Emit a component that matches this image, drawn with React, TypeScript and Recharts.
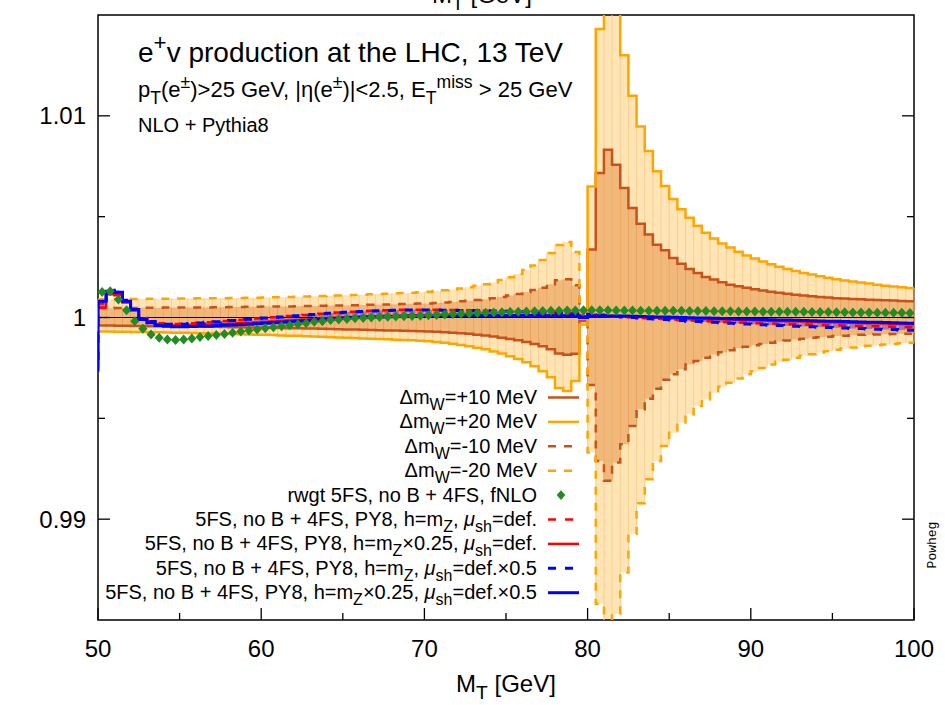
import React from 'react';
import { ComposedChart, XAxis, YAxis, Line, Area, ErrorBar, ReferenceLine, ReferenceArea } from 'recharts';

// ---------------- data ----------------
const binStart = [
  50, 50.5, 51, 51.5, 52, 52.5, 53, 53.5, 54, 54.5, 55, 55.5, 56, 56.5, 57, 57.5, 58, 58.5, 59, 59.5,
  60, 60.5, 61, 61.5, 62, 62.5, 63, 63.5, 64, 64.5, 65, 65.5, 66, 66.5, 67, 67.5, 68, 68.5, 69, 69.5,
  70, 70.5, 71, 71.5, 72, 72.5, 73, 73.5, 74, 74.5, 75, 75.5, 76, 76.5, 77, 77.5, 78, 78.5, 79, 79.5,
  80, 80.5, 81, 81.5, 82, 82.5, 83, 83.5, 84, 84.5, 85, 85.5, 86, 86.5, 87, 87.5, 88, 88.5, 89, 89.5,
  90, 90.5, 91, 91.5, 92, 92.5, 93, 93.5, 94, 94.5, 95, 95.5, 96, 96.5, 97, 97.5, 98, 98.5, 99, 99.5,
];

const dmWp10 = [
  0.99960, 0.99960, 0.99959, 0.99959, 0.99958, 0.99958, 0.99957, 0.99957, 0.99957, 0.99956,
  0.99956, 0.99955, 0.99955, 0.99954, 0.99954, 0.99953, 0.99952, 0.99952, 0.99951, 0.99950,
  0.99950, 0.99949, 0.99948, 0.99947, 0.99947, 0.99946, 0.99945, 0.99944, 0.99943, 0.99942,
  0.99941, 0.99940, 0.99939, 0.99938, 0.99937, 0.99936, 0.99935, 0.99934, 0.99933, 0.99932,
  0.99931, 0.99929, 0.99927, 0.99925, 0.99922, 0.99919, 0.99915, 0.99911, 0.99906, 0.99900,
  0.99894, 0.99887, 0.99879, 0.99869, 0.99857, 0.99842, 0.99822, 0.99815, 0.99820, 0.99983,
  1.00337, 1.00716, 1.00832, 1.00757, 1.00642, 1.00543, 1.00465, 1.00411, 1.00361, 1.00333,
  1.00295, 1.00266, 1.00241, 1.00221, 1.00201, 1.00188, 1.00175, 1.00163, 1.00155, 1.00147,
  1.00140, 1.00134, 1.00128, 1.00123, 1.00118, 1.00113, 1.00109, 1.00105, 1.00102, 1.00099,
  1.00096, 1.00094, 1.00092, 1.00090, 1.00088, 1.00087, 1.00085, 1.00084, 1.00082, 1.00081,
];

const dmWp20 = [
  0.99930, 0.99930, 0.99929, 0.99929, 0.99928, 0.99928, 0.99927, 0.99927, 0.99926, 0.99925,
  0.99924, 0.99923, 0.99922, 0.99921, 0.99920, 0.99919, 0.99918, 0.99917, 0.99916, 0.99915,
  0.99914, 0.99913, 0.99911, 0.99910, 0.99909, 0.99907, 0.99906, 0.99904, 0.99902, 0.99901,
  0.99899, 0.99898, 0.99896, 0.99895, 0.99893, 0.99892, 0.99890, 0.99889, 0.99887, 0.99885,
  0.99882, 0.99879, 0.99875, 0.99870, 0.99864, 0.99857, 0.99850, 0.99842, 0.99832, 0.99821,
  0.99808, 0.99794, 0.99778, 0.99758, 0.99734, 0.99704, 0.99650, 0.99635, 0.99685, 0.99965,
  1.00650, 1.01430, 1.01660, 1.01520, 1.01300, 1.01100, 1.00947, 1.00826, 1.00725, 1.00652,
  1.00587, 1.00537, 1.00495, 1.00455, 1.00420, 1.00392, 1.00367, 1.00347, 1.00326, 1.00308,
  1.00293, 1.00278, 1.00264, 1.00252, 1.00241, 1.00230, 1.00221, 1.00213, 1.00205, 1.00197,
  1.00190, 1.00184, 1.00178, 1.00173, 1.00168, 1.00163, 1.00158, 1.00154, 1.00150, 1.00146,
];

const dmWm10 = [
  1.00046, 1.00046, 1.00047, 1.00047, 1.00047, 1.00048, 1.00048, 1.00048, 1.00049, 1.00049,
  1.00049, 1.00050, 1.00050, 1.00050, 1.00051, 1.00051, 1.00052, 1.00052, 1.00053, 1.00053,
  1.00054, 1.00054, 1.00055, 1.00055, 1.00056, 1.00057, 1.00057, 1.00058, 1.00059, 1.00060,
  1.00060, 1.00061, 1.00062, 1.00063, 1.00064, 1.00065, 1.00066, 1.00067, 1.00068, 1.00069,
  1.00070, 1.00072, 1.00074, 1.00077, 1.00080, 1.00083, 1.00087, 1.00091, 1.00096, 1.00102,
  1.00109, 1.00117, 1.00126, 1.00136, 1.00148, 1.00165, 1.00185, 1.00190, 1.00160, 1.00012,
  0.99665, 0.99289, 0.99190, 0.99281, 0.99371, 0.99462, 0.99545, 0.99597, 0.99647, 0.99691,
  0.99718, 0.99743, 0.99767, 0.99784, 0.99800, 0.99817, 0.99828, 0.99838, 0.99847, 0.99855,
  0.99862, 0.99869, 0.99875, 0.99881, 0.99886, 0.99891, 0.99895, 0.99899, 0.99902, 0.99905,
  0.99908, 0.99910, 0.99912, 0.99914, 0.99915, 0.99916, 0.99917, 0.99918, 0.99919, 0.99920,
];

const dmWm20 = [
  1.00090, 1.00091, 1.00091, 1.00092, 1.00092, 1.00092, 1.00093, 1.00093, 1.00093, 1.00094,
  1.00094, 1.00094, 1.00095, 1.00095, 1.00096, 1.00096, 1.00097, 1.00097, 1.00098, 1.00098,
  1.00099, 1.00100, 1.00101, 1.00102, 1.00103, 1.00104, 1.00105, 1.00106, 1.00108, 1.00109,
  1.00110, 1.00112, 1.00113, 1.00115, 1.00116, 1.00118, 1.00120, 1.00121, 1.00123, 1.00125,
  1.00128, 1.00131, 1.00135, 1.00139, 1.00144, 1.00150, 1.00157, 1.00165, 1.00175, 1.00186,
  1.00200, 1.00216, 1.00235, 1.00258, 1.00285, 1.00320, 1.00360, 1.00375, 1.00325, 1.00025,
  0.99330, 0.98580, 0.98350, 0.98530, 0.98736, 0.98926, 0.99079, 0.99198, 0.99289, 0.99363,
  0.99429, 0.99479, 0.99520, 0.99561, 0.99594, 0.99627, 0.99657, 0.99677, 0.99697, 0.99718,
  0.99734, 0.99750, 0.99767, 0.99780, 0.99790, 0.99800, 0.99810, 0.99818, 0.99826, 0.99833,
  0.99840, 0.99846, 0.99851, 0.99856, 0.99860, 0.99863, 0.99866, 0.99869, 0.99872, 0.99875,
];

const rwgtFNLO = [
  1.00127, 1.00130, 1.00089, 1.00036, 0.99982, 0.99944, 0.99916, 0.99900, 0.99891, 0.99888,
  0.99891, 0.99896, 0.99903, 0.99908, 0.99913, 0.99918, 0.99924, 0.99931, 0.99936, 0.99940,
  0.99947, 0.99952, 0.99957, 0.99962, 0.99967, 0.99972, 0.99979, 0.99982, 0.99987, 0.99990,
  0.99993, 0.99996, 0.99998, 1.00000, 1.00002, 1.00004, 1.00005, 1.00006, 1.00008, 1.00009,
  1.00011, 1.00013, 1.00015, 1.00017, 1.00019, 1.00020, 1.00022, 1.00024, 1.00025, 1.00026,
  1.00028, 1.00029, 1.00030, 1.00031, 1.00032, 1.00033, 1.00034, 1.00035, 1.00035, 1.00036,
  1.00036, 1.00036, 1.00036, 1.00035, 1.00035, 1.00035, 1.00034, 1.00034, 1.00034, 1.00033,
  1.00033, 1.00033, 1.00032, 1.00032, 1.00032, 1.00031, 1.00031, 1.00031, 1.00030, 1.00030,
  1.00030, 1.00029, 1.00029, 1.00029, 1.00028, 1.00028, 1.00028, 1.00027, 1.00027, 1.00027,
  1.00026, 1.00026, 1.00025, 1.00025, 1.00025, 1.00024, 1.00024, 1.00023, 1.00023, 1.00022,
];

const redDashed = [
  1.00070, 1.00120, 1.00115, 1.00080, 1.00035, 0.99997, 0.99982, 0.99972, 0.99969, 0.99968,
  0.99969, 0.99971, 0.99974, 0.99977, 0.99980, 0.99983, 0.99986, 0.99989, 0.99992, 0.99995,
  0.99998, 1.00001, 1.00004, 1.00007, 1.00010, 1.00013, 1.00016, 1.00019, 1.00022, 1.00025,
  1.00027, 1.00029, 1.00031, 1.00033, 1.00035, 1.00036, 1.00037, 1.00038, 1.00038, 1.00038,
  1.00038, 1.00038, 1.00037, 1.00037, 1.00036, 1.00036, 1.00035, 1.00034, 1.00033, 1.00032,
  1.00031, 1.00030, 1.00029, 1.00028, 1.00027, 1.00026, 1.00024, 1.00022, 1.00020, 1.00006,
  1.00015, 1.00012, 1.00009, 1.00006, 1.00003, 1.00001, 0.99998, 0.99996, 0.99994, 0.99992,
  0.99990, 0.99988, 0.99986, 0.99984, 0.99982, 0.99980, 0.99978, 0.99977, 0.99975, 0.99974,
  0.99972, 0.99971, 0.99970, 0.99968, 0.99967, 0.99966, 0.99965, 0.99964, 0.99963, 0.99962,
  0.99961, 0.99960, 0.99959, 0.99958, 0.99957, 0.99956, 0.99955, 0.99954, 0.99953, 0.99952,
];

const redSolid = [
  1.00050, 1.00115, 1.00110, 1.00075, 1.00035, 0.99995, 0.99980, 0.99967, 0.99962, 0.99960,
  0.99960, 0.99961, 0.99962, 0.99963, 0.99965, 0.99967, 0.99969, 0.99971, 0.99973, 0.99975,
  0.99978, 0.99980, 0.99983, 0.99985, 0.99988, 0.99990, 0.99992, 0.99995, 0.99997, 0.99999,
  1.00001, 1.00003, 1.00004, 1.00005, 1.00006, 1.00007, 1.00008, 1.00009, 1.00010, 1.00010,
  1.00011, 1.00011, 1.00012, 1.00012, 1.00012, 1.00012, 1.00012, 1.00012, 1.00012, 1.00011,
  1.00011, 1.00011, 1.00011, 1.00010, 1.00010, 1.00010, 1.00009, 1.00009, 1.00008, 1.00002,
  1.00007, 1.00007, 1.00006, 1.00005, 1.00004, 1.00003, 1.00002, 1.00001, 1.00000, 0.99999,
  0.99998, 0.99997, 0.99995, 0.99994, 0.99993, 0.99992, 0.99991, 0.99990, 0.99989, 0.99988,
  0.99986, 0.99985, 0.99984, 0.99983, 0.99982, 0.99981, 0.99980, 0.99979, 0.99978, 0.99977,
  0.99976, 0.99975, 0.99974, 0.99973, 0.99972, 0.99971, 0.99970, 0.99969, 0.99968, 0.99967,
];

const blueDashed = [
  1.00090, 1.00135, 1.00125, 1.00085, 1.00040, 0.99995, 0.99980, 0.99970, 0.99967, 0.99966,
  0.99967, 0.99970, 0.99973, 0.99976, 0.99979, 0.99982, 0.99985, 0.99988, 0.99991, 0.99994,
  0.99997, 1.00000, 1.00003, 1.00006, 1.00009, 1.00012, 1.00015, 1.00018, 1.00021, 1.00024,
  1.00026, 1.00028, 1.00030, 1.00032, 1.00034, 1.00035, 1.00036, 1.00037, 1.00037, 1.00037,
  1.00037, 1.00037, 1.00036, 1.00036, 1.00035, 1.00035, 1.00034, 1.00033, 1.00032, 1.00031,
  1.00030, 1.00029, 1.00028, 1.00027, 1.00026, 1.00025, 1.00023, 1.00021, 1.00019, 1.00005,
  1.00016, 1.00012, 1.00009, 1.00006, 1.00003, 1.00000, 0.99997, 0.99994, 0.99992, 0.99990,
  0.99987, 0.99985, 0.99982, 0.99980, 0.99978, 0.99976, 0.99974, 0.99972, 0.99970, 0.99968,
  0.99966, 0.99964, 0.99962, 0.99960, 0.99958, 0.99957, 0.99955, 0.99954, 0.99952, 0.99951,
  0.99949, 0.99948, 0.99946, 0.99945, 0.99943, 0.99942, 0.99941, 0.99940, 0.99938, 0.99937,
];

const blueSolid = [
  1.00080, 1.00130, 1.00125, 1.00080, 1.00040, 0.99990, 0.99974, 0.99960, 0.99956, 0.99954,
  0.99954, 0.99955, 0.99956, 0.99957, 0.99959, 0.99961, 0.99963, 0.99965, 0.99967, 0.99969,
  0.99971, 0.99974, 0.99977, 0.99979, 0.99982, 0.99985, 0.99987, 0.99990, 0.99993, 0.99995,
  0.99998, 1.00000, 1.00001, 1.00002, 1.00003, 1.00004, 1.00005, 1.00006, 1.00007, 1.00007,
  1.00008, 1.00009, 1.00009, 1.00010, 1.00010, 1.00010, 1.00010, 1.00010, 1.00010, 1.00010,
  1.00010, 1.00010, 1.00010, 1.00010, 1.00009, 1.00009, 1.00009, 1.00008, 1.00008, 1.00000,
  1.00009, 1.00009, 1.00008, 1.00008, 1.00007, 1.00006, 1.00005, 1.00004, 1.00003, 1.00002,
  1.00001, 1.00000, 0.99999, 0.99998, 0.99997, 0.99996, 0.99995, 0.99994, 0.99993, 0.99992,
  0.99991, 0.99990, 0.99989, 0.99988, 0.99987, 0.99986, 0.99985, 0.99984, 0.99983, 0.99982,
  0.99981, 0.99980, 0.99979, 0.99978, 0.99977, 0.99976, 0.99975, 0.99974, 0.99973, 0.99972,
];

// bin just below the plotted range (only its rising edge at 50 GeV is visible)
const underflowBinStart = 49.5;
const underflowRedDashed = 0.99765;
const underflowRedSolid = 0.99760;
const underflowBlueDashed = 0.99745;
const underflowBlueSolid = 0.99740;

const xTicks = [50, 55, 60, 65, 70, 75, 80, 85, 90, 95, 100];
const yTicks = [0.99, 0.995, 1, 1.005, 1.01];
const yTickLabels: Record<string, string> = { '0.99': '0.99', '1': '1', '1.01': '1.01' };
const X_DOMAIN: [number, number] = [50, 100];
const Y_DOMAIN: [number, number] = [0.985, 1.015];

// ---------------- styles ----------------
const FONT = '"Liberation Sans", Arial, Helvetica, sans-serif';
const C_DARK = '#c8521a';
const C_ORANGE = '#ffa500';
const C_GREEN = '#228b22';
const C_RED = '#ff0000';
const C_BLUE = '#0000ff';
const FILL_LIGHT = '#ffe4b5';
const FILL_DARK = '#f1b87c';
const EDGE_LIGHT = '#fbcf8f';
const EDGE_DARK = '#eba058';
const BAND = '#9462ac';

// ---------------- table ----------------
const BIN_W = binStart[1] - binStart[0];
const clampSpan = (vals: number[]) => {
  const lo = Math.max(Y_DOMAIN[0], Math.min(1, ...vals));
  const hi = Math.min(Y_DOMAIN[1], Math.max(1, ...vals));
  return [1 - lo, hi - 1];
};
const binValues = (i: number) => ({
  p10: dmWp10[i], p20: dmWp20[i], m10: dmWm10[i], m20: dmWm20[i],
  rd: redDashed[i], rs: redSolid[i], bd: blueDashed[i], bs: blueSolid[i],
  band: [
    Math.min(redDashed[i], redSolid[i], blueDashed[i], blueSolid[i]),
    Math.max(redDashed[i], redSolid[i], blueDashed[i], blueSolid[i]),
  ],
});
const edgeValues = (a: number, b: number) => ({
  base: 1,
  lightEdge: clampSpan([dmWp20[a], dmWp20[b], dmWm20[a], dmWm20[b]]),
  darkEdge: clampSpan([dmWp10[a], dmWp10[b], dmWm10[a], dmWm10[b]]),
});

const rows: any[] = [];
rows.push({
  x: underflowBinStart, rd: underflowRedDashed, rs: underflowRedSolid,
  bd: underflowBlueDashed, bs: underflowBlueSolid,
});
binStart.forEach((s, i) => {
  const prev = i > 0 ? i - 1 : i;
  rows.push({ x: s, ...binValues(i), ...edgeValues(prev, i) });
  rows.push({ x: s + BIN_W / 2, ...binValues(i), g: rwgtFNLO[i] });
});
const last = binStart.length - 1;
rows.push({ x: binStart[last] + BIN_W, ...binValues(last), ...edgeValues(last, last) });

// ---------------- pieces ----------------
const XTick = (props: any) => {
  const { x, y, payload } = props;
  const major = payload.value % 10 === 0;
  return (
    <g>
      <line x1={x} x2={x} y1={y} y2={y - (major ? 12 : 7)} stroke="#000" strokeWidth={1.3} />
      {major && (
        <text x={x} y={y + 37} textAnchor="middle" fontSize={24} fontFamily={FONT} fill="#000">
          {payload.value}
        </text>
      )}
    </g>
  );
};

const YTickLeft = (props: any) => {
  const { x, y, payload } = props;
  const label = yTickLabels[String(payload.value)];
  return (
    <g>
      <line x1={x} x2={x + (label ? 12 : 7)} y1={y} y2={y} stroke="#000" strokeWidth={1.3} />
      {label && (
        <text x={x - 12} y={y + 8.5} textAnchor="end" fontSize={24} fontFamily={FONT} fill="#000">
          {label}
        </text>
      )}
    </g>
  );
};

const YTickRight = (props: any) => {
  const { x, y, payload } = props;
  const label = yTickLabels[String(payload.value)];
  return <line x1={x} x2={x - (label ? 12 : 7)} y1={y} y2={y} stroke="#000" strokeWidth={1.3} />;
};

const Diamond = (props: any) => {
  const { cx, cy, index } = props;
  if (cy == null || cx == null || Number.isNaN(cy)) return <g key={`d${index}`} />;
  return (
    <polygon
      key={`d${index}`}
      points={`${cx},${cy - 5} ${cx + 4.5},${cy} ${cx},${cy + 5} ${cx - 4.5},${cy}`}
      fill={C_GREEN}
    />
  );
};

type Part = [string, ('n' | 'sub' | 'sup')?, boolean?];
const Rich = ({ x, y, size, anchor = 'start', parts }: { x: number; y: number; size: number; anchor?: string; parts: Part[] }) => {
  let cur = 0;
  return (
    <text x={x} y={y} fontSize={size} textAnchor={anchor as any} fontFamily={FONT} fill="#000">
      {parts.map(([s, mode = 'n', italic], k) => {
        const off = mode === 'sub' ? size * 0.3 : mode === 'sup' ? -size * 0.42 : 0;
        const dy = off - cur;
        cur = off;
        return (
          <tspan key={k} dy={dy} fontSize={mode === 'n' ? size : size * 0.8} fontStyle={italic ? 'italic' : 'normal'}>
            {s}
          </tspan>
        );
      })}
    </text>
  );
};

type LegendEntry = { parts: Part[]; kind: 'line' | 'diamond'; color?: string; width?: number; dash?: string };
const legendEntries: LegendEntry[] = [
  { parts: [['Δm'], ['W', 'sub'], ['=+10 MeV']], kind: 'line', color: C_DARK, width: 2.5 },
  { parts: [['Δm'], ['W', 'sub'], ['=+20 MeV']], kind: 'line', color: C_ORANGE, width: 2.5 },
  { parts: [['Δm'], ['W', 'sub'], ['=-10 MeV']], kind: 'line', color: C_DARK, width: 2.5, dash: '8 8' },
  { parts: [['Δm'], ['W', 'sub'], ['=-20 MeV']], kind: 'line', color: C_ORANGE, width: 2.5, dash: '8 8' },
  { parts: [['rwgt 5FS, no B + 4FS, fNLO']], kind: 'diamond' },
  { parts: [['5FS, no B + 4FS, PY8, h=m'], ['Z', 'sub'], [', '], ['μ', 'n', true], ['sh', 'sub'], ['=def.']], kind: 'line', color: C_RED, width: 2.5, dash: '8 9' },
  { parts: [['5FS, no B + 4FS, PY8, h=m'], ['Z', 'sub'], ['×0.25, '], ['μ', 'n', true], ['sh', 'sub'], ['=def.']], kind: 'line', color: C_RED, width: 2.5 },
  { parts: [['5FS, no B + 4FS, PY8, h=m'], ['Z', 'sub'], [', '], ['μ', 'n', true], ['sh', 'sub'], ['=def.×0.5']], kind: 'line', color: C_BLUE, width: 3, dash: '8 9' },
  { parts: [['5FS, no B + 4FS, PY8, h=m'], ['Z', 'sub'], ['×0.25, '], ['μ', 'n', true], ['sh', 'sub'], ['=def.×0.5']], kind: 'line', color: C_BLUE, width: 3 },
];

const Overlay = () => {
  const legendTop = 397.5;
  const legendStep = 24.4;
  const textEnd = 537;
  const s0 = 548;
  const s1 = 579;
  const dmx = 561;
  return (
    <svg width={945} height={705} style={{ position: 'absolute', left: 0, top: 0, pointerEvents: 'none' }}>
      <Rich x={138} y={62} size={28} parts={[['e'], ['+', 'sup'], ['v production at the LHC, 13 TeV']]} />
      <Rich
        x={138}
        y={97}
        size={22}
        parts={[['p'], ['T', 'sub'], ['(e'], ['±', 'sup'], [')>25 GeV, |η(e'], ['±', 'sup'], [')|<2.5, E'], ['T', 'sub'], ['miss', 'sup'], [' > 25 GeV']]}
      />
      <Rich x={138} y={132} size={20} parts={[['NLO + Pythia8']]} />
      {legendEntries.map((e, k) => {
        const yc = legendTop + k * legendStep;
        return (
          <g key={k}>
            <Rich x={textEnd} y={yc + 6.5} size={20} anchor="end" parts={e.parts} />
            {e.kind === 'line' ? (
              <line x1={s0} x2={s1} y1={yc} y2={yc} stroke={e.color} strokeWidth={e.width} strokeDasharray={e.dash} />
            ) : (
              <polygon points={`${dmx},${yc - 4.8} ${dmx + 4.3},${yc} ${dmx},${yc + 4.8} ${dmx - 4.3},${yc}`} fill={C_GREEN} />
            )}
          </g>
        );
      })}
      <Rich x={506} y={692} size={24} anchor="middle" parts={[['M'], ['T', 'sub'], [' [GeV]']]} />
      <Rich x={482} y={3} size={24} anchor="middle" parts={[['M'], ['T', 'sub'], [' [GeV]']]} />
      <text
        x={0}
        y={0}
        transform="translate(936 545) rotate(-90)"
        textAnchor="middle"
        fontSize={13}
        fontFamily='"Liberation Mono", "Courier New", monospace'
        fill="#000"
      >
        Powheg
      </text>
    </svg>
  );
};

export default function App() {
  return (
    <div style={{ position: 'absolute', left: 0, top: 0, width: 945, height: 705, background: '#fff' }}>
      <ComposedChart width={945} height={705} data={rows} margin={{ top: 15, right: 30, bottom: 84, left: 97 }}>
        <XAxis
          dataKey="x"
          type="number"
          domain={X_DOMAIN}
          allowDataOverflow
          ticks={xTicks}
          interval={0}
          height={1}
          tickSize={0}
          tickMargin={0}
          axisLine={false}
          tickLine={false}
          tick={XTick}
        />
        <YAxis
          yAxisId="l"
          type="number"
          domain={Y_DOMAIN}
          allowDataOverflow
          ticks={yTicks}
          interval={0}
          width={1}
          tickSize={0}
          tickMargin={0}
          axisLine={false}
          tickLine={false}
          tick={YTickLeft}
        />
        <YAxis
          yAxisId="r"
          orientation="right"
          type="number"
          domain={Y_DOMAIN}
          allowDataOverflow
          ticks={yTicks}
          interval={0}
          width={1}
          tickSize={0}
          tickMargin={0}
          axisLine={false}
          tickLine={false}
          tick={YTickRight}
        />

        {/* light boxes (+-20 MeV) */}
        <Area yAxisId="l" type="stepAfter" dataKey="p20" baseValue={1} stroke="none" fill={FILL_LIGHT} fillOpacity={1} isAnimationActive={false} />
        <Area yAxisId="l" type="stepAfter" dataKey="m20" baseValue={1} stroke="none" fill={FILL_LIGHT} fillOpacity={1} isAnimationActive={false} />
        {/* dark boxes (+-10 MeV) */}
        <Area yAxisId="l" type="stepAfter" dataKey="p10" baseValue={1} stroke="none" fill={FILL_DARK} fillOpacity={1} isAnimationActive={false} />
        <Area yAxisId="l" type="stepAfter" dataKey="m10" baseValue={1} stroke="none" fill={FILL_DARK} fillOpacity={1} isAnimationActive={false} />
        {/* box edges */}
        <Line yAxisId="l" dataKey="base" stroke="none" dot={false} activeDot={false} isAnimationActive={false}>
          <ErrorBar dataKey="lightEdge" width={0} stroke={EDGE_LIGHT} strokeWidth={1} direction="y" />
        </Line>
        <Line yAxisId="l" dataKey="base" stroke="none" dot={false} activeDot={false} isAnimationActive={false}>
          <ErrorBar dataKey="darkEdge" width={0} stroke={EDGE_DARK} strokeWidth={1} direction="y" />
        </Line>

        <ReferenceLine yAxisId="l" y={1} stroke="#000" strokeWidth={1.2} />

        {/* envelope of the shower variations */}
        <Area yAxisId="l" type="stepAfter" dataKey="band" stroke="none" fill={BAND} fillOpacity={0.75} isAnimationActive={false} />

        <Line yAxisId="l" type="stepAfter" dataKey="p10" stroke={C_DARK} strokeWidth={2.5} dot={false} isAnimationActive={false} />
        <Line yAxisId="l" type="stepAfter" dataKey="p20" stroke={C_ORANGE} strokeWidth={2.5} dot={false} isAnimationActive={false} />
        <Line yAxisId="l" type="stepAfter" dataKey="m10" stroke={C_DARK} strokeWidth={2.5} strokeDasharray="8 8" dot={false} isAnimationActive={false} />
        <Line yAxisId="l" type="stepAfter" dataKey="m20" stroke={C_ORANGE} strokeWidth={2.5} strokeDasharray="8 8" dot={false} isAnimationActive={false} />
        <Line yAxisId="l" dataKey="g" stroke="none" dot={Diamond} activeDot={false} isAnimationActive={false} />
        <Line yAxisId="l" type="stepAfter" dataKey="rd" stroke={C_RED} strokeWidth={2.5} strokeDasharray="8 9" dot={false} isAnimationActive={false} />
        <Line yAxisId="l" type="stepAfter" dataKey="rs" stroke={C_RED} strokeWidth={2.5} dot={false} isAnimationActive={false} />
        <Line yAxisId="l" type="stepAfter" dataKey="bd" stroke={C_BLUE} strokeWidth={3} strokeDasharray="8 9" dot={false} isAnimationActive={false} />
        <Line yAxisId="l" type="stepAfter" dataKey="bs" stroke={C_BLUE} strokeWidth={3} dot={false} isAnimationActive={false} />

        <ReferenceArea yAxisId="l" x1={X_DOMAIN[0]} x2={X_DOMAIN[1]} y1={Y_DOMAIN[0]} y2={Y_DOMAIN[1]} fill="none" fillOpacity={0} stroke="#000" strokeWidth={1.5} />
      </ComposedChart>
      <Overlay />
    </div>
  );
}
